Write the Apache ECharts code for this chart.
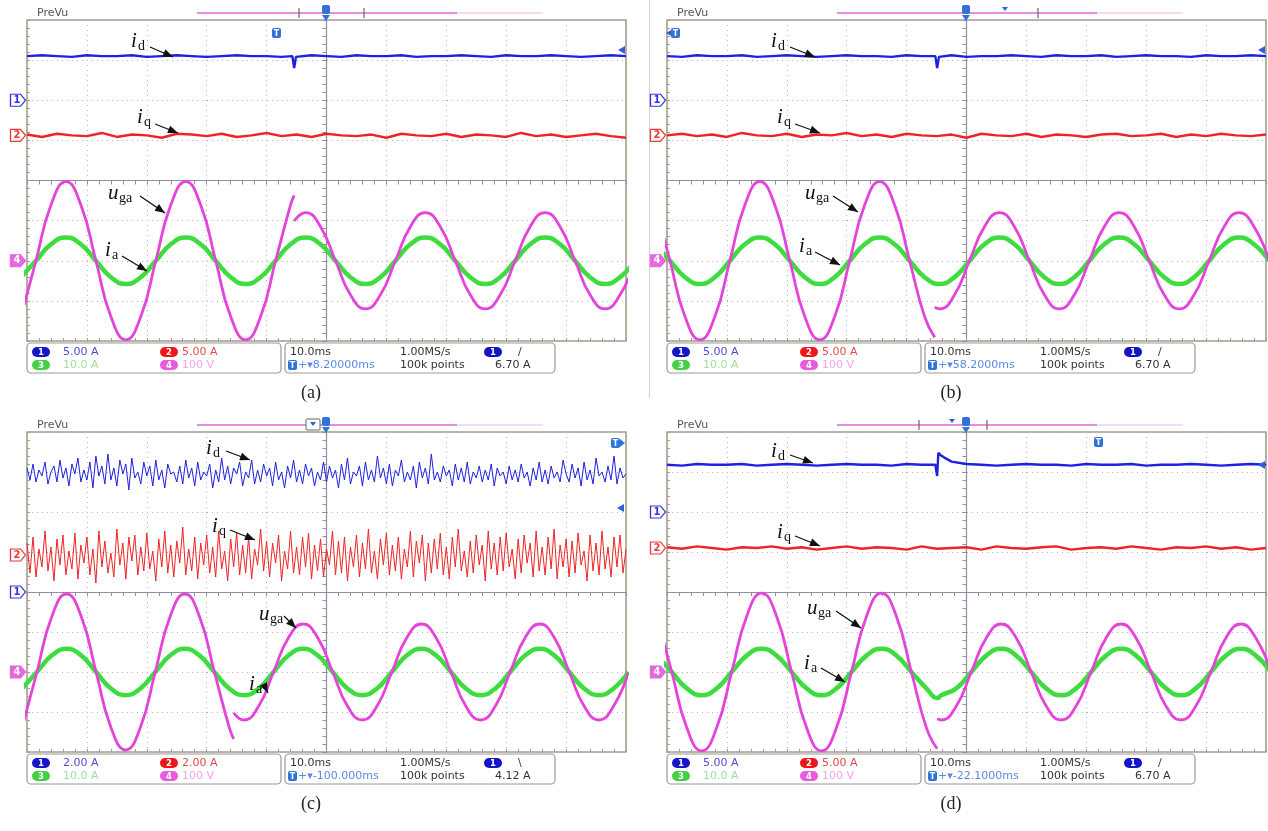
<!DOCTYPE html>
<html><head><meta charset="utf-8">
<script src="https://cdn.jsdelivr.net/npm/echarts@6/dist/echarts.min.js"></script>
<style>html,body{margin:0;padding:0;background:#fff;}#c{width:1268px;height:831px;}</style>
</head><body><div id="c"></div>
<script>
// ---------- DATA ----------
// sample instants of the slow (dc) traces, ms relative to the screen centre (10 ms/div, 10 div)
const timeMs = [-50,-47.5,-45,-42.5,-40,-37.5,-35,-32.5,-30,-27.5,-25,-22.5,-20,-17.5,-15,-12.5,-10,-7.5,-5,-2.5,0,2.5,5,7.5,10,12.5,15,17.5,20,22.5,25,27.5,30,32.5,35,37.5,40,42.5,45,47.5,50];

// channel settings [scale per div, ground level in div]
const a_ch = {id:[5,2], iq:[5,1.125], ia:[10,-2], uga:[100,-2]};
const b_ch = {id:[5,2], iq:[5,1.125], ia:[10,-2], uga:[100,-2]};
const c_ch = {id:[2,0], iq:[2,0.925], ia:[10,-2], uga:[100,-2]};
const d_ch = {id:[5,2], iq:[5,1.1], ia:[10,-2], uga:[100,-2]};

// (a)  ac instants [ms], u_ga [V], i_a [A]; dc traces i_d, i_q [A]
const a_acTime = [-51,-48.5,-46,-43.5,-41,-38.5,-36,-33.5,-31,-28.5,-26,-23.5,-21,-18.5,-16,-13.5,-11,-8.5,-6,-3.5,-1,1.5,4,6.5,9,11.5,14,16.5,19,21.5,24,26.5,29,31.5,34,36.5,39,41.5,44,46.5,49,51.5];
const a_uga = [-139,0,139,197,139,0,-139,-197,-139,0,139,197,139,0,-139,-197,-139,0,139,120,85,0,-85,-120,-85,0,85,120,85,0,-85,-120,-85,0,85,120,85,0,-85,-120,-85,0];
const a_fault = [-5.4, 163, 99];   // instant, value before, value after
const a_ia = [-4.1,0,4.1,5.8,4.1,0,-4.1,-5.8,-4.1,0,4.1,5.8,4.1,0,-4.1,-5.8,-4.1,0,4.1,5.8,4.1,0,-4.1,-5.8,-4.1,0,4.1,5.8,4.1,0,-4.1,-5.8,-4.1,0,4.1,5.8,4.1,0,-4.1,-5.8,-4.1,0];
const a_id = [5.5,5.6,5.5,5.4,5.6,5.5,5.5,5.6,5.4,5.5,5.6,5.5,5.4,5.5,5.6,5.5,5.5,5.4,5.5,5.6,5.5,5.4,5.6,5.5,5.5,5.6,5.4,5.5,5.5,5.6,5.5,5.4,5.6,5.5,5.5,5.6,5.5,5.4,5.5,5.6,5.5];
const a_idSpike = [[-5.7,5.5],[-5.4,4.0],[-5.1,5.4]];
const a_iq = [0.1,-0.2,0.2,0.0,-0.1,0.3,-0.2,0.1,0.0,-0.3,0.2,0.1,-0.1,0.2,-0.2,0.0,0.3,-0.1,0.1,-0.2,0.2,0.0,-0.1,0.1,-0.3,0.2,0.0,-0.1,0.2,-0.2,0.1,0.0,-0.2,0.3,-0.1,0.1,-0.2,0.0,0.2,-0.1,-0.3];

// (b)
const b_acTime = [-52,-49.5,-47,-44.5,-42,-39.5,-37,-34.5,-32,-29.5,-27,-24.5,-22,-19.5,-17,-14.5,-12,-9.5,-7,-4.5,-2,0.5,3,5.5,8,10.5,13,15.5,18,20.5,23,25.5,28,30.5,33,35.5,38,40.5,43,45.5,48,50.5];
const b_uga = [139,0,-139,-197,-139,0,139,197,139,0,-139,-197,-139,0,139,197,139,0,-139,-120,-85,0,85,120,85,0,-85,-120,-85,0,85,120,85,0,-85,-120,-85,0,85,120,85,0];
const b_fault = [-5.3, -191, -116];
const b_ia = [4.1,0,-4.1,-5.8,-4.1,0,4.1,5.8,4.1,0,-4.1,-5.8,-4.1,0,4.1,5.8,4.1,0,-4.1,-5.8,-4.1,0,4.1,5.8,4.1,0,-4.1,-5.8,-4.1,0,4.1,5.8,4.1,0,-4.1,-5.8,-4.1,0,4.1,5.8,4.1,0];
const b_id = [5.5,5.4,5.6,5.5,5.5,5.6,5.4,5.5,5.6,5.5,5.4,5.5,5.6,5.5,5.5,5.4,5.6,5.5,5.5,5.6,5.4,5.5,5.5,5.6,5.5,5.4,5.6,5.5,5.5,5.6,5.4,5.5,5.6,5.5,5.5,5.4,5.6,5.5,5.5,5.6,5.5];
const b_idSpike = [[-5.2,5.5],[-4.9,4.0],[-4.6,5.4]];
const b_iq = [0.0,0.2,-0.1,0.1,-0.2,0.3,0.0,-0.1,0.2,-0.2,0.1,0.0,0.3,-0.1,0.1,-0.2,0.2,0.0,-0.1,0.1,-0.3,0.2,0.0,-0.1,0.2,-0.2,0.1,0.0,-0.2,0.1,0.2,-0.1,0.0,0.2,-0.2,0.1,-0.1,0.2,0.0,-0.1,0.1];

// (c)
const c_acTime = [-50.81,-48.34,-45.87,-43.40,-40.93,-38.47,-36.00,-33.53,-31.06,-28.59,-26.12,-23.65,-21.19,-18.72,-16.25,-13.78,-11.31,-8.84,-6.37,-3.90,-1.44,1.03,3.50,5.97,8.44,10.91,13.38,15.85,18.31,20.78,23.25,25.72,28.19,30.66,33.13,35.60,38.06,40.53,43.00,45.47,47.94,50.41];
const c_uga = [-138,0,138,195,138,0,-138,-195,-138,0,138,195,138,0,-138,-120,-85,0,85,120,85,0,-85,-120,-85,0,85,120,85,0,-85,-120,-85,0,85,120,85,0,-85,-120,-85,0];
const c_fault = [-15.5, -167, -102];
const c_ia = [-4.1,0,4.1,5.8,4.1,0,-4.1,-5.8,-4.1,0,4.1,5.8,4.1,0,-4.1,-5.8,-4.1,0,4.1,5.8,4.1,0,-4.1,-5.8,-4.1,0,4.1,5.8,4.1,0,-4.1,-5.8,-4.1,0,4.1,5.8,4.1,0,-4.1,-5.8,-4.1,0];
const c_id = [6.2,5.6,6.4,5.5,6.1,5.8,6.5,5.4,6.0,6.3,5.5,6.6,5.7,6.2,5.3,6.4,5.9,6.7,5.5,6.1,
5.6,6.5,5.2,6.8,5.8,6.3,5.4,6.9,5.6,6.2,5.3,6.6,5.9,6.4,5.1,6.7,5.7,6.0,5.4,6.5,
5.8,6.3,5.3,6.6,5.6,6.1,5.2,6.4,5.9,6.0,5.5,6.3,5.4,6.6,5.7,6.2,5.3,6.5,5.6,6.0,
5.8,6.4,5.2,6.1,5.5,6.7,5.6,6.3,5.4,6.2,5.9,6.5,5.3,6.0,5.7,6.6,5.4,6.1,5.5,6.4,
5.8,6.2,5.3,6.5,5.6,6.0,5.2,6.3,5.7,6.6,5.5,6.1,5.4,6.4,5.8,6.2,5.3,6.0,5.6,6.5,
5.5,6.3,5.7,6.1,5.2,6.4,5.6,6.7,5.4,6.0,5.8,6.3,5.3,6.5,5.6,6.1,5.5,6.8,5.7,6.2,
5.4,6.4,5.3,6.1,5.8,6.6,5.5,6.0,5.6,6.3,5.2,6.5,5.7,6.2,5.4,6.9,5.6,6.0,5.5,6.3,
5.8,6.1,5.3,6.4,5.6,6.2,5.5,6.5,5.4,6.0,5.7,6.3,5.5,6.1,5.6,6.4,5.3,6.2,5.8,6.0,
5.4,6.3,5.6,6.1,5.5,6.4,5.7,6.0,5.3,6.2,5.6,6.5,5.5,6.1,5.4,6.3,5.7,6.0,5.5,6.6,
5.9,5.5,6.4,5.7,6.2,5.3,6.5,5.6,6.1,5.4,6.7,5.8,6.0,5.5,6.3,5.6,6.8,5.4,6.2,5.7,5.9];
const c_iq = [0.6,-0.9,0.9,-1.1,0.3,-0.6,1.2,-0.8,0.4,-1.3,0.8,-0.5,1.0,-1.0,0.2,-0.7,1.1,-1.2,0.5,-0.4,
0.9,-1.0,0.3,-1.4,1.2,-0.6,0.7,-0.9,0.1,-1.1,1.3,-0.5,0.6,-1.2,0.9,-0.3,1.0,-1.0,0.4,-0.8,
1.1,-0.7,0.2,-1.3,0.8,-0.6,1.2,-0.9,0.5,-1.1,0.7,-0.4,1.4,-1.0,0.3,-0.8,0.9,-1.2,0.6,-0.5,
1.0,-0.9,0.4,-1.1,1.2,-0.7,0.2,-1.3,0.8,-0.6,1.1,-1.0,0.5,-0.9,0.9,-1.2,0.3,-0.5,1.3,-0.8,
0.7,-1.1,0.6,-0.4,1.0,-1.3,0.2,-0.7,1.2,-0.9,0.4,-1.0,0.9,-0.6,1.1,-1.2,0.5,-0.8,0.8,-1.1,
0.3,-0.5,1.2,-1.0,0.7,-0.9,0.9,-1.3,0.4,-0.6,1.0,-1.1,0.6,-0.7,1.3,-0.9,0.2,-1.2,0.8,-0.5,
1.1,-1.0,0.5,-0.8,0.9,-1.2,0.3,-0.6,1.2,-1.1,0.7,-0.4,1.0,-1.3,0.6,-0.9,0.8,-0.7,1.1,-1.0,
0.4,-1.2,0.9,-0.6,1.3,-0.8,0.2,-1.1,0.7,-0.9,1.0,-0.5,0.5,-1.3,1.2,-0.7,0.6,-1.0,0.9,-0.8,
1.1,-0.6,0.3,-1.2,0.8,-0.9,1.0,-0.4,0.6,-1.1,1.2,-0.8,0.4,-1.0,0.9,-0.7,1.3,-1.2,0.5,-0.6,
0.8,-1.1,0.7,-0.9,1.1,-0.5,0.2,-1.3,1.0,-0.8,0.6,-1.0,1.2,-0.7,0.4,-1.1,0.9,-0.6,1.0,-0.9,0.3];

// (d)
const d_acTime = [-51.7,-49.2,-46.7,-44.2,-41.7,-39.2,-36.7,-34.2,-31.7,-29.2,-26.7,-24.2,-21.7,-19.2,-16.7,-14.2,-11.7,-9.2,-6.7,-4.2,-1.7,0.8,3.3,5.8,8.3,10.8,13.3,15.8,18.3,20.8,23.3,25.8,28.3,30.8,33.3,35.8,38.3,40.8,43.3,45.8,48.3,50.8];
const d_uga = [139,0,-139,-197,-139,0,139,197,139,0,-139,-197,-139,0,139,197,139,0,-139,-120,-85,0,85,120,85,0,-85,-120,-85,0,85,120,85,0,-85,-120,-85,0,85,120,85,0];
const d_fault = [-4.9, -192, -117];
const d_ia = [4.1,0,-4.1,-5.8,-4.1,0,4.1,5.8,4.1,0,-4.1,-5.8,-4.1,0,4.1,5.8,4.1,0,-4.1,-5.8,-4.1,0,4.1,5.8,4.1,0,-4.1,-5.8,-4.1,0,4.1,5.8,4.1,0,-4.1,-5.8,-4.1,0,4.1,5.8,4.1,0];
const d_iaNotch = [[-4.8,-6.5]];
const d_id = [5.9,5.8,6.0,5.9,5.9,6.0,5.8,5.9,6.0,5.9,5.8,5.9,6.0,5.9,5.9,5.8,6.0,5.9,5.9,6.3,6.0,5.9,5.8,5.9,6.0,5.9,5.9,5.8,6.0,5.9,5.9,6.0,5.8,5.9,5.9,6.0,5.9,5.8,5.9,6.0,5.9];
const d_idTransient = [[-5.2,5.9],[-4.9,4.5],[-4.7,7.4],[-4.3,7.1],[-3.7,6.8],[-3.1,6.55]];
const d_iq = [0.1,-0.1,0.2,0.0,-0.2,0.1,0.0,0.2,-0.1,0.1,-0.2,0.0,0.2,-0.1,0.1,0.0,-0.2,0.2,-0.1,0.0,0.1,-0.2,0.2,0.0,-0.1,0.1,0.2,-0.2,0.0,0.1,-0.1,0.2,0.0,-0.2,0.1,0.0,0.2,-0.1,0.1,-0.2,0.0];

// texts of the status bars
const scaleLabels = [['5.00 A','5.00 A','10.0 A','100 V'],['5.00 A','5.00 A','10.0 A','100 V'],['2.00 A','2.00 A','10.0 A','100 V'],['5.00 A','5.00 A','10.0 A','100 V']];
const delayLabels = ['8.20000ms','58.2000ms','-100.000ms','-22.1000ms'];
const slopeLabels = ['/','/','\\','/'];
const levelLabels = ['6.70 A','6.70 A','4.12 A','6.70 A'];
const panelLabels = ['(a)','(b)','(c)','(d)'];

// ---------- BUILD ----------
const C = {id:'#1e22e0', iq:'#ee2424', uga:'#e444da', ia:'#3fdc3f'};
const boxes = [{gx:27,gt:20,gw:599,gh:321},{gx:667,gt:20,gw:599,gh:321},{gx:27,gt:432,gw:599,gh:320},{gx:667,gt:432,gw:599,gh:320}];

function zip(times, vals){ return vals.map((v,i)=>[times[i], v]); }
function recordTimes(n){ const out=[], step=100/(n-1); for(let i=0;i<n;i++) out.push(-50 + i*step); return out; }
function merge(base, extra){ return base.concat(extra||[]).sort((p,q)=>p[0]-q[0]); }
function toDiv(pts, ch){ return pts.map(p=>[p[0], ch[1] + p[1]/ch[0]]); }
function split(pts, f){
  const before = pts.filter(p=>p[0]<f[0]); before.push([f[0], f[1]]);
  const after = [[f[0], f[2]]].concat(pts.filter(p=>p[0]>f[0]));
  return [before, after];
}

const P = [
  {ch:a_ch, id:merge(zip(timeMs,a_id),a_idSpike), iq:zip(timeMs,a_iq), uga:zip(a_acTime,a_uga), fault:a_fault, ia:zip(a_acTime,a_ia), thin:2.4},
  {ch:b_ch, id:merge(zip(timeMs,b_id),b_idSpike), iq:zip(timeMs,b_iq), uga:zip(b_acTime,b_uga), fault:b_fault, ia:zip(b_acTime,b_ia), thin:2.4},
  {ch:c_ch, id:zip(recordTimes(c_id.length),c_id), iq:zip(recordTimes(c_iq.length),c_iq), uga:zip(c_acTime,c_uga), fault:c_fault, ia:zip(c_acTime,c_ia), thin:1},
  {ch:d_ch, id:merge(zip(timeMs,d_id),d_idTransient), iq:zip(timeMs,d_iq), uga:zip(d_acTime,d_uga), fault:d_fault, ia:merge(zip(d_acTime,d_ia),d_iaNotch), thin:2.4}
];

const BORDER = '#a39e8a', CENTER = '#8e8ea2', DOT = '#b2b2b2';
const grid=[], xAxis=[], yAxis=[], series=[];

function chMarker(num, ground, color, filled){
  return {symbol:'path://M0,0L10,0L15,6L10,12L0,12Z', symbolSize:[15,12], symbolOffset:[-9,0], silent:true, animation:false,
    data:[{coord:[-50, ground]}],
    itemStyle:{color: filled?color:'#ffffff', borderColor:color, borderWidth:1.2},
    label:{show:true, position:'inside', formatter:String(num), color: filled?'#ffffff':color, fontSize:10, fontWeight:'bold', fontFamily:'DejaVu Sans', offset:[-1,0]}};
}

boxes.forEach((b,gi)=>{
  grid.push({left:b.gx, top:b.gt, width:b.gw, height:b.gh, show:true, borderColor:BORDER, borderWidth:1.6, backgroundColor:'rgba(0,0,0,0)', containLabel:false, outerBoundsMode:'none'});
  xAxis.push({gridIndex:gi, type:'value', min:-50, max:50, interval:10, position:'bottom',
    axisLine:{show:false, onZero:false}, axisLabel:{show:false},
    axisTick:{show:true, inside:true, length:3, lineStyle:{color:BORDER}},
    minorTick:{show:true, splitNumber:5, length:3, lineStyle:{color:BORDER}},
    splitLine:{show:true, lineStyle:{color:DOT, type:[1,4], width:1}}});
  xAxis.push({gridIndex:gi, type:'value', min:-50, max:50, interval:10, position:'top',
    axisLine:{show:true, onZero:true, onZeroAxisIndex:2*gi, lineStyle:{color:CENTER, width:1.2}}, axisLabel:{show:false},
    axisTick:{show:true, inside:true, length:4, lineStyle:{color:CENTER}},
    minorTick:{show:true, splitNumber:5, length:4, lineStyle:{color:CENTER}},
    splitLine:{show:false}});
  yAxis.push({gridIndex:gi, type:'value', min:-4, max:4, interval:1, position:'left',
    axisLine:{show:false, onZero:false}, axisLabel:{show:false},
    axisTick:{show:true, inside:true, length:3, lineStyle:{color:BORDER}},
    minorTick:{show:true, splitNumber:5, length:3, lineStyle:{color:BORDER}},
    splitLine:{show:true, lineStyle:{color:DOT, type:[1,4], width:1}}});
  yAxis.push({gridIndex:gi, type:'value', min:-4, max:4, interval:1, position:'right',
    axisLine:{show:true, onZero:true, onZeroAxisIndex:2*gi, lineStyle:{color:CENTER, width:1.2}}, axisLabel:{show:false},
    axisTick:{show:true, inside:true, length:4, lineStyle:{color:CENTER}},
    minorTick:{show:true, splitNumber:5, length:4, lineStyle:{color:CENTER}},
    splitLine:{show:false}});

  const p = P[gi];
  const base = {type:'line', xAxisIndex:2*gi, yAxisIndex:2*gi, showSymbol:false, symbol:'none', animation:false};
  const [ub, ua] = split(p.uga, p.fault);
  series.push(Object.assign({}, base, {name:'ia', data:toDiv(p.ia,p.ch.ia), smooth:0.5, clip:true, z:3, lineStyle:{color:C.ia, width:4.5}}));
  series.push(Object.assign({}, base, {name:'uga', data:toDiv(ub,p.ch.uga), smooth:0.5, clip:true, z:4, lineStyle:{color:C.uga, width:2.8}}));
  series.push(Object.assign({}, base, {name:'uga', data:toDiv(ua,p.ch.uga), smooth:0.5, clip:true, z:4, lineStyle:{color:C.uga, width:2.8}}));
  series.push(Object.assign({}, base, {name:'iq', data:toDiv(p.iq,p.ch.iq), clip:false, z:3, lineStyle:{color:C.iq, width:p.thin},
     markPoint:chMarker(2, p.ch.iq[1], '#ea3b3b', false)}));
  series.push(Object.assign({}, base, {name:'id', data:toDiv(p.id,p.ch.id), clip:false, z:3, lineStyle:{color:C.id, width:p.thin},
     markPoint:chMarker(1, p.ch.id[1], '#3434e0', false)}));
  // channel-4 ground marker (on a data-less helper series)
  series.push(Object.assign({}, base, {name:'ch4', data:[], clip:false, z:5, markPoint:chMarker(4, p.ch.uga[1], '#e866df', true)}));
});

// ---------- DECORATIONS (scope UI, labels, arrows) ----------
const G = [];
function txt(x,y,text,o){ o=o||{}; G.push({type:'text', x, y, silent:true, z:o.z||20, style:{text, fill:o.fill||'#333', fontSize:o.size||11, fontFamily:o.family||'DejaVu Sans', fontStyle:o.style||'normal', fontWeight:o.weight||'normal', align:o.align||'left', verticalAlign:o.va||'middle'}}); }
function line(x1,y1,x2,y2,stroke,w,z){ G.push({type:'line', silent:true, z:z||20, shape:{x1,y1,x2,y2}, style:{stroke, lineWidth:w||1}}); }
function rect(x,y,w,h,r,fill,stroke,lw,z){ G.push({type:'rect', silent:true, z:z||20, shape:{x,y,width:w,height:h,r}, style:{fill, stroke:stroke||null, lineWidth:lw||0}}); }
function poly(points, fill, z){ G.push({type:'polygon', silent:true, z:z||20, shape:{points}, style:{fill}}); }
function arrow(x1,y1,x2,y2){
  line(x1,y1,x2,y2,'#111',1.3,60);
  const a=Math.atan2(y2-y1,x2-x1), L=10, W=4, bx=x2-L*Math.cos(a), by=y2-L*Math.sin(a);
  poly([[x2,y2],[bx+W*Math.sin(a), by-W*Math.cos(a)],[bx-W*Math.sin(a), by+W*Math.cos(a)]], '#111', 60);
}
function pill(x,y,num,color){ rect(x,y,18,10,5,color); txt(x+9,y+5.5,String(num),{fill:'#fff',size:8.5,weight:'bold',align:'center'}); }
function tIcon(x,y){ rect(x,y,9,10,2,'#2f72d8'); txt(x+4.5,y+5.5,'T',{fill:'#fff',size:8,weight:'bold',align:'center'}); }
function leftTri(x,y){ poly([[x,y],[x+7,y-4],[x+7,y+4]],'#2f60d8'); }

// separator line between (a) and (b)
line(649.5,0,649.5,398,'#d2d2d2',1,1);

const topDecor = [
  {pink:[197,457], fade:[457,543], brackets:[299,364], tri:[], box:null, trig:326},
  {pink:[837,1097], fade:[1097,1183], brackets:[1038], tri:[1005], box:null, trig:966},
  {pink:[197,457], fade:[457,543], brackets:[], tri:[], box:[306,320], trig:326},
  {pink:[837,1097], fade:[1097,1183], brackets:[919,987], tri:[952], box:null, trig:966}
];
const annots = [
  [['i','d',131,31,150,47,173,57],['i','q',137,107,155,124,178,133],['u','ga',108,183,140,196,165,213],['i','a',105,240,122,256,147,271]],
  [['i','d',771,31,790,47,815,57],['i','q',777,107,795,124,820,133],['u','ga',805,183,833,196,858,212],['i','a',799,236,815,252,840,265]],
  [['i','d',206,438,226,451,250,460],['i','q',212,516,230,530,255,540],['u','ga',259,604,284,616,296,628],['i','a',249,674,264,685,268,693]],
  [['i','d',771,441,790,455,813,463],['i','q',777,522,795,536,820,546],['u','ga',807,598,836,611,861,628],['i','a',804,653,821,668,845,682]]
];

boxes.forEach((b,gi)=>{
  const gx=b.gx, gt=b.gt, gb=b.gt+b.gh, ty=gt-7, d=topDecor[gi];
  // top status strip
  txt(gx+10, ty, 'PreVu', {fill:'#555', size:11});
  line(d.fade[0], ty, d.fade[1], ty, '#f6dcf2', 2, 5);
  line(d.pink[0], ty, d.pink[1], ty, '#e88ee0', 2, 6);
  d.brackets.forEach(x=>line(x, ty-5, x, ty+5, '#666', 1.2, 7));
  d.tri.forEach(x=>poly([[x-3,ty-6],[x+3,ty-6],[x,ty-2]],'#2f60d8',7));
  if (d.box){ const m=(d.box[0]+d.box[1])/2; rect(d.box[0], ty-6, d.box[1]-d.box[0], 11, 1, '#fff', '#666', 1, 7); poly([[m-3, ty-3],[m+3, ty-3],[m, ty+1]],'#2f60d8',8); }
  rect(d.trig-4, ty-8, 8, 9, 2, '#2f72d8', null, 0, 8);
  poly([[d.trig-4,gt-5],[d.trig+4,gt-5],[d.trig,gt+1]],'#2f72d8',8);

  // status bar
  rect(gx, gb+2, 254, 30, 4, '#fff', '#9a9a9a', 1.2, 5);
  rect(gx+258, gb+2, 270, 30, 4, '#fff', '#9a9a9a', 1.2, 5);
  const s = scaleLabels[gi];
  pill(gx+5, gb+6, 1, '#1414c8'); txt(gx+36, gb+11, s[0], {fill:'#4c4cd2'});
  pill(gx+133, gb+6, 2, '#ee1616'); txt(gx+155, gb+11, s[1], {fill:'#e04a4a'});
  pill(gx+5, gb+19, 3, '#44d044'); txt(gx+36, gb+24, s[2], {fill:'#9ee09e'});
  pill(gx+133, gb+19, 4, '#e85ae0'); txt(gx+155, gb+24, s[3], {fill:'#f0a6e8'});
  txt(gx+263, gb+11, '10.0ms', {fill:'#333'});
  txt(gx+373, gb+11, '1.00MS/s', {fill:'#333'});
  pill(gx+457, gb+6, 1, '#1414c8');
  txt(gx+491, gb+11, slopeLabels[gi], {fill:'#333'});
  tIcon(gx+261, gb+19);
  txt(gx+271, gb+24, '+\u25BE' + delayLabels[gi], {fill:'#5a8ae6'});
  txt(gx+373, gb+24, '100k points', {fill:'#333'});
  txt(gx+468, gb+24, levelLabels[gi], {fill:'#333'});

  // panel caption
  txt(gx+284, gb+52, panelLabels[gi], {fill:'#222', size:18, family:'Liberation Serif', align:'center'});

  // curve annotations
  annots[gi].forEach(a=>{
    txt(a[2], a[3], a[0], {fill:'#111', size:21, family:'Liberation Serif', style:'italic', va:'top', z:60});
    const dx = a[0]==='u' ? 11 : 7;
    txt(a[2]+dx, a[3]+8, a[1], {fill:'#111', size:14, family:'Liberation Serif', va:'top', z:60});
    arrow(a[4],a[5],a[6],a[7]);
  });
});

// trigger-level arrows and T icons inside the screens
tIcon(272, 28); leftTri(618, 50);
leftTri(666, 33); tIcon(671, 28); leftTri(1258, 50);
tIcon(611, 438); poly([[620,439],[625,443],[620,447]],'#2f72d8'); leftTri(617, 508);
tIcon(1094, 437); leftTri(1258, 465);

const chart = echarts.init(document.getElementById('c'), null, {renderer:'canvas'});
chart.setOption({
  backgroundColor:'#ffffff',
  animation:false,
  grid, xAxis, yAxis, series,
  graphic:{elements:G}
});
</script>
</body></html>
